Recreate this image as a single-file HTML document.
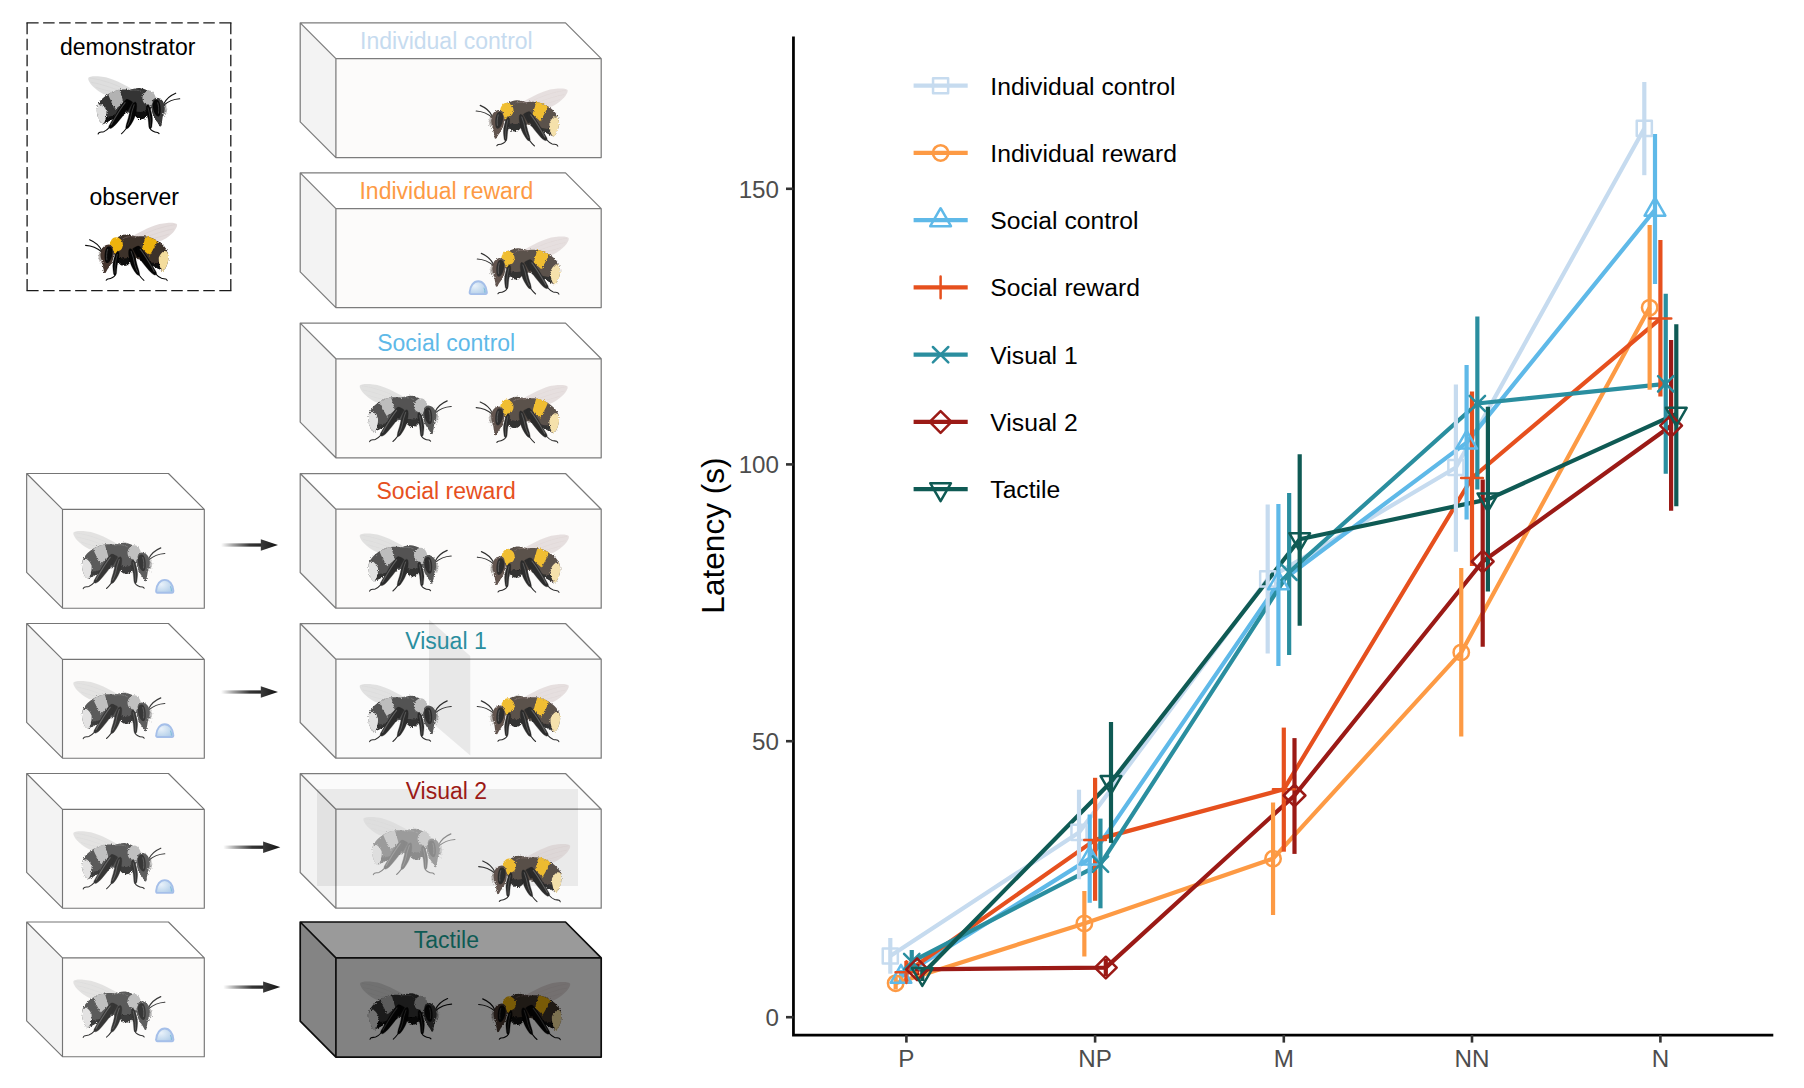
<!DOCTYPE html>
<html lang="en"><head><meta charset="utf-8"><title>Bumblebee social learning: treatments and latency</title>
<style>html,body{margin:0;padding:0;background:#fff;}body{width:1804px;height:1088px;overflow:hidden;font-family:"Liberation Sans", Arial, Helvetica, sans-serif;}</style>
</head><body>
<svg width="1804" height="1088" viewBox="0 0 1804 1088" style="display:block"><defs>

<filter id="fuzz" x="-5%" y="-5%" width="110%" height="110%">
 <feTurbulence type="fractalNoise" baseFrequency="0.85" numOctaves="2" seed="7" result="n"/>
 <feDisplacementMap in="SourceGraphic" in2="n" scale="3" xChannelSelector="R" yChannelSelector="G"/>
</filter>
<symbol id="bee" viewBox="0 0 93 60" overflow="visible">
<g transform="translate(-85,-222)" stroke-linejoin="round" stroke-linecap="round">
 <!-- wing -->
 <path d="M131,237 C139,232.5 146,228.8 151.3,226.7 C157,224.3 162,223.2 167,222.9 C172,222.6 176.6,223 177.1,224.6 C177.4,226.5 175.6,229.6 173.1,232.4 C170.4,235.4 167,237.6 163.8,239.6 C160.5,241.4 158,242 156,242 L140,240 Z" fill="#d2c4c4" fill-opacity="0.6"/>
 <path d="M140,236 C150,231 162,226.5 175,224.6 M146,237 C155,234 166,230 173.5,229 M152,238.5 C158,237.5 165,235.5 169,234" fill="none" stroke="#bfb0b0" stroke-width="0.35" opacity="0.45"/>
 <!-- antennae -->
 <path d="M101.8,250.8 C99.6,246.2 95.5,242.2 89.6,239.8" fill="none" stroke="#0b0b0b" stroke-width="1.15"/>
 <path d="M101.6,251.8 C97.5,248.3 91.5,245.8 85.6,245.4" fill="none" stroke="#0b0b0b" stroke-width="1.15"/>
 <g filter="url(#fuzz)">
 <!-- head -->
 <path d="M101.4,249.8 C102.6,246.6 105.4,244.6 108.6,244.4 C111.4,244.4 113.2,246 113.8,249 C114.2,253 113.8,258 112.2,261.8 C110.8,265 108.8,267.6 107.4,269.6 L105.8,272.6 C105.2,273.4 104.2,273.2 104,272.4 C103.4,270 103.2,267 102.6,263.5 C102,260.5 100.8,259 100.6,256 C100.5,253.5 100.8,251.5 101.4,249.8 Z" fill="#44362f"/>
 <path d="M101,253.4 l-1.8,-0.6 M100.7,255.6 l-2.2,0.1 M100.8,257.8 l-2,0.7 M101.3,259.8 l-1.6,1.1 M101.2,251.4 l-1.3,-0.9 M102,261.8 l-1.2,1.2 M100.8,254.5 l-1.5,-0.2 M100.7,256.7 l-1.7,0.4 M101,258.8 l-1.5,0.9" stroke="#44362f" stroke-width="0.7" fill="none" opacity="0.85"/>
 <!-- body -->
 <path d="M112,246 C112.6,242.5 115,239 118,237 C120.5,235.5 123.5,234.7 126,234.6 C129.5,234.5 133,235.6 136,236.6 C139.5,236 143,236 146,236.5 C150.5,237.2 154,238.6 157,240.5 C160,242.4 162.4,244.4 164.4,246.6 C166,248.4 167.2,250.4 167.8,252.4 C168.5,254.6 168.6,257 168.3,259.4 C168,262 167.2,264.8 166,267.2 C165.2,268.8 164.2,270.2 163,271 C161.2,270.6 159.6,269.6 158,268.5 C155.5,267 152.8,265.6 150,264.5 C147.6,263.4 145.2,262 143,261 C141,260.2 139,259.2 137,259 C134.5,259.6 132.2,261 130,262.4 C128,263.8 126,265 124,265 C122,265 120.2,264.2 119,263 C117.6,261.6 116.6,259.8 116,258 C114.8,256 113.6,254 113,252 C112.4,250 111.8,248 112,246 Z" fill="#3e302b"/>
 <!-- thorax sheen -->
 <path d="M123,238.6 C126,236.6 131,236 135,237" fill="none" stroke="#74655d" stroke-width="0.9" opacity="0.75"/>
 <!-- ventral fur -->
 <path d="M117.4,257.4 C121,258.6 125,258.8 129.4,258 C130.4,259.6 130.6,261.6 129.6,263.2 C128.2,265 126,266 124,265.8 C121.8,265.8 120,264.8 118.8,263.2 C117.8,261.6 117.2,259.4 117.4,257.4 Z" fill="#070707"/>
 <path d="M140,258.6 C144,259.6 147.6,261 150.5,262.2 C154,263.4 157.4,263.6 160,263 L160.4,268 C159.6,268.8 158.6,269 158,268.7 C155.5,267.2 152.8,265.8 150,264.7 C146.6,263.2 143.4,261.6 140,260.4 Z" fill="#070707"/>
 <!-- yellow collar -->
 <path d="M109.6,244.4 C110,242 111.2,239.6 113.2,238 C114.8,237 116.8,237 118.6,237.8 C120.4,238.8 122,240.6 122.6,242.6 C123.2,244.8 122.8,247.2 121.6,249 C120.6,250.4 119,251 117.6,251.2 C116.8,252.2 116,253.2 115,253.6 C114,252.8 113.4,251.2 113,249.8 C112.6,248 112.4,246.4 111.4,245.4 Z" fill="#eeb30f"/>
 <!-- yellow band -->
 <path d="M145.6,236.4 C149.6,236.8 153.6,238.4 157.2,240.8 C156.2,243.4 155,246 153.6,248.6 C152.4,251 151,253.4 149.6,255.6 C148.2,254.4 146.8,253.2 145.4,252 C144.2,250.8 143,249.8 142,248.6 C142.6,246.2 143.4,243.8 144.2,241.4 C144.6,239.8 145,238 145.6,236.4 Z" fill="#eeb30f"/>
 <!-- cream tail -->
 <path d="M163.6,251.2 C164.8,250.8 166.2,251 167.3,251.8 C168.2,254 168.6,256.6 168.4,259.2 C168,262 167.2,264.6 166.2,266.8 C165.4,268.6 164.4,270.2 163.1,271.2 C161.8,270.2 160.8,268.8 160.2,267.2 C159.2,264 158.6,260.6 158.8,257.4 C159.8,255 161.4,252.8 163.6,251.2 Z" fill="#f4dd9d"/>
 </g>
 <!-- eye -->
 <path d="M108.6,246.4 C110.8,246.2 112.4,248.2 112.5,251.4 C112.6,255 111.6,258.6 109.8,261.2 C108.8,262.6 107.4,263.4 106.4,263 C105.2,262.4 104.6,259.8 104.6,256.6 C104.6,253 105.2,249.6 106.6,247.6 C107.2,246.8 107.8,246.4 108.6,246.4 Z" fill="#080808"/>
 <path d="M107.6,249.4 C106.6,252.4 106.3,256.4 106.8,259.8" fill="none" stroke="#444" stroke-width="0.9"/>
 <!-- legs -->
 <g fill="#050505" stroke="#050505" stroke-width="0.3">
  <!-- coxa region between mid and hind legs -->
  <path d="M132.6,248.8 C134.6,247 136.8,246.2 138.6,246.2 L140.6,250 L140,256.4 L137.4,257.6 L134.6,252.4 Z"/>
  <!-- hind leg -->
  <path d="M136.6,246.9 C137.6,246.1 138.8,245.9 139.7,246.5 C142,249 144.5,252.5 146.25,255.5 C148,258 149.5,260.5 150.5,262.5 C152.5,265.5 154,268 155,270 C156,271.6 156.6,272.8 156.6,273.6 C156.4,274.8 155.4,275.2 154.4,275 C153,274.4 152,273.6 151,272.6 C149.4,271 148,269.4 146.9,268 C145,265.8 143.4,263.8 141.9,261.75 C140.6,259.6 139.6,257.4 138.75,255.5 C137.8,253.6 136.6,251.6 136.25,250 C136,248.8 136.1,247.6 136.6,246.9 Z"/>
  <!-- mid leg -->
  <path d="M129.8,248.9 C130.8,248.5 131.8,249.3 132.6,250.6 C133.6,252.4 134.2,254 134.6,255.5 C135.4,257.6 136,259.8 136.4,261.75 C136.9,263.8 137.4,266 138.1,268 C138.8,270 139.4,272.2 139.6,274 C139.7,274.9 139.2,275.5 138.5,275.3 C137.6,275 136.9,274.5 136.25,273.8 C134.8,272 133.6,270 132.5,268 C131.4,266 130.6,263.8 130,261.75 C129.4,259.7 129,257.6 128.75,255.5 C128.5,253.6 128.5,251.6 128.8,250.2 C129,249.5 129.3,249.1 129.8,248.9 Z"/>
  <!-- front leg -->
  <path d="M117.4,251.4 C118.2,251.2 118.8,252 119,253.4 C119.2,255 119.1,256.6 118.9,258 C118.5,260.6 117.7,263.2 117.2,265.5 C116.8,268 116.8,270.6 116.5,273 C116.4,274 116,274.9 115.4,275.3 C114.6,275.6 114,275 113.7,274.2 C113.5,273.8 113.4,273.4 113.4,273 C113.2,270.4 112.7,268 112.8,265.5 C112.9,263 113.4,260.4 114.1,258 C114.8,255.6 116,253 117.4,251.4 Z"/>
 </g>
 <g fill="none" stroke="#050505" stroke-width="1.05">
  <path d="M155.6,273.8 C157.6,276 159.6,277.6 161.6,278.3 C163.2,278.8 164.8,278.6 166,279.1 C166.6,279.4 167,280 167.2,280.6"/>
  <path d="M138.4,274.2 C140.2,276.6 141.8,278.8 143.9,280.4"/>
  <path d="M115.4,274.8 C114,277.4 110.8,278.6 107.8,279 C107.2,279.2 106.6,279.6 106.2,280.2"/>
 </g>
 <!-- leg sheen -->
 <path d="M140.2,249.2 C143.6,253.6 147,259 150,264 C151.6,266.6 153,269 154.2,271.4" fill="none" stroke="#6a6a6a" stroke-width="1.1" opacity="0.6"/>
 <path d="M131.2,251.4 C132.8,255.6 134,260 134.8,264.6 C135.4,267 136.4,269.6 137.6,272" fill="none" stroke="#6a6a6a" stroke-width="0.9" opacity="0.6"/>
 <path d="M117.2,254.4 C116.4,258 115.4,262 115,266.4 C114.9,268.6 115,270.8 115,273" fill="none" stroke="#6a6a6a" stroke-width="0.8" opacity="0.55"/>
</g>
</symbol>

<linearGradient id="arrg" x1="0" y1="0" x2="1" y2="0">
 <stop offset="0" stop-color="#333" stop-opacity="0"/>
 <stop offset="0.3" stop-color="#333" stop-opacity="0.45"/>
 <stop offset="0.7" stop-color="#2c2c2c" stop-opacity="0.95"/>
 <stop offset="1" stop-color="#262626" stop-opacity="1"/>
</linearGradient>
<linearGradient id="headg" x1="0" y1="0" x2="1" y2="0">
 <stop offset="0" stop-color="#3a3a3a"/>
 <stop offset="1" stop-color="#111"/>
</linearGradient>
<radialGradient id="dropg" cx="0.3" cy="0.35" r="0.8">
 <stop offset="0" stop-color="#eaf2fa"/>
 <stop offset="0.55" stop-color="#c9ddf0"/>
 <stop offset="1" stop-color="#aecbe8"/>
</radialGradient>
<filter id="dim" x="-5%" y="-5%" width="110%" height="110%" color-interpolation-filters="sRGB">
 <feColorMatrix type="matrix" values="0.51 0 0 0 0  0 0.51 0 0 0  0 0 0.51 0 0  0 0 0 1 0"/>
</filter>
<filter id="graydim" x="-5%" y="-5%" width="110%" height="110%" color-interpolation-filters="sRGB">
 <feColorMatrix type="matrix" values="0.153 0.301 0.056 0 0  0.153 0.301 0.056 0 0  0.153 0.301 0.056 0 0  0 0 0 1 0"/>
</filter>
<filter id="gray" x="-5%" y="-5%" width="110%" height="110%" color-interpolation-filters="sRGB">
 <feColorMatrix type="matrix" values="0.30 0.59 0.11 0 0  0.30 0.59 0.11 0 0  0.30 0.59 0.11 0 0  0 0 0 1 0"/>
</filter>
<g id="drop">
 <path d="M2.4,13.8 Q0.7,13.8 0.95,11.7 C1.4,5.6 4.9,1 9.55,1 C14.2,1 17.7,5.6 18.15,11.7 Q18.4,13.8 16.7,13.8 Z" fill="url(#dropg)" stroke="#a5bfe9" stroke-width="1.9" stroke-linejoin="round"/>
 <path d="M15.2,7.4 C16,9.2 16.3,10.8 16.2,12.4" fill="none" stroke="#63b4d2" stroke-width="1" opacity="0.7"/>
</g>
<g id="arrow">
 <rect x="0" y="-1.65" width="41" height="3.3" fill="url(#arrg)"/>
 <path d="M39.8,-5.7 L57,0 L39.8,5.7 Z" fill="url(#headg)"/>
</g>
</defs>
<rect width="1804" height="1088" fill="#ffffff"/>
<g font-family='"Liberation Sans", Arial, Helvetica, sans-serif'>
<g fill="none" stroke="#1a1a1a" stroke-width="1.3" stroke-linecap="butt"><path d="M26.450000000000003,22.8 H231.45000000000002 M26.450000000000003,290.6 H231.45000000000002" stroke-dasharray="12.15 4.517 11.5 4.517 11.5 4.517 11.5 4.517 11.5 4.517 11.5 4.517 11.5 4.517 11.5 4.517 11.5 4.517 11.5 4.517 11.5 4.517 11.5 4.517 12.15 0"/><path d="M27.1,22.8 V290.6 M230.8,22.8 V290.6" stroke-dasharray="11.5 4.519"/></g>
<text x="127.7" y="54.8" font-size="23" fill="#000" text-anchor="middle">demonstrator</text>
<text x="134.3" y="204.8" font-size="23" fill="#000" text-anchor="middle">observer</text>
<g transform="translate(180.30,75.40) scale(-1,1)" opacity="1.0"><use href="#bee" x="0" y="0" width="93" height="60" filter="url(#gray)"/></g>
<use href="#bee" x="85.00" y="222.00" width="93" height="60" opacity="1.0"/>
<path d="M300.2,22.9 L335.9,58.6 L335.9,157.6 L300.2,121.9 Z" fill="#f3f3f3"/>
<path d="M300.2,22.9 L565.5,22.9 L601.2,58.6 L335.9,58.6 Z" fill="#ffffff"/>
<rect x="335.9" y="58.6" width="265.3" height="99.0" fill="#fcfbfa" fill-opacity="1.0"/>
<path d="M300.2,22.9 H565.5 L601.2,58.6 V157.6 H335.9 L300.2,121.9 Z M300.2,22.9 L335.9,58.6 H601.2 M335.9,58.6 V157.6" fill="none" stroke="#7c7c7c" stroke-width="1.25" stroke-linejoin="round"/>
<text x="446.4" y="48.8" font-size="23" fill="#c6dbef" text-anchor="middle">Individual control</text>
<use href="#bee" x="475.60" y="87.60" width="93" height="60" opacity="0.84"/>
<path d="M300.2,172.9 L335.9,208.60000000000002 L335.9,307.6 L300.2,271.9 Z" fill="#f3f3f3"/>
<path d="M300.2,172.9 L565.5,172.9 L601.2,208.60000000000002 L335.9,208.60000000000002 Z" fill="#ffffff"/>
<rect x="335.9" y="208.60000000000002" width="265.3" height="99.0" fill="#fcfbfa" fill-opacity="1.0"/>
<path d="M300.2,172.9 H565.5 L601.2,208.60000000000002 V307.6 H335.9 L300.2,271.9 Z M300.2,172.9 L335.9,208.60000000000002 H601.2 M335.9,208.60000000000002 V307.6" fill="none" stroke="#7c7c7c" stroke-width="1.25" stroke-linejoin="round"/>
<text x="446.4" y="198.6" font-size="23" fill="#fd9a44" text-anchor="middle">Individual reward</text>
<use href="#bee" x="476.70" y="235.60" width="93" height="60" opacity="0.84"/>
<use href="#drop" x="468.7" y="280.3"/>
<path d="M300.2,323.1 L335.9,358.8 L335.9,457.8 L300.2,422.1 Z" fill="#f3f3f3"/>
<path d="M300.2,323.1 L565.5,323.1 L601.2,358.8 L335.9,358.8 Z" fill="#ffffff"/>
<rect x="335.9" y="358.8" width="265.3" height="99.0" fill="#fcfbfa" fill-opacity="1.0"/>
<path d="M300.2,323.1 H565.5 L601.2,358.8 V457.8 H335.9 L300.2,422.1 Z M300.2,323.1 L335.9,358.8 H601.2 M335.9,358.8 V457.8" fill="none" stroke="#7c7c7c" stroke-width="1.25" stroke-linejoin="round"/>
<text x="446.2" y="350.9" font-size="23" fill="#5fb9e8" text-anchor="middle">Social control</text>
<g transform="translate(451.80,383.10) scale(-1,1)" opacity="0.84"><use href="#bee" x="0" y="0" width="93" height="60" filter="url(#gray)"/></g>
<use href="#bee" x="475.60" y="384.20" width="93" height="60" opacity="0.84"/>
<path d="M300.2,473.5 L335.9,509.2 L335.9,608.2 L300.2,572.5 Z" fill="#f3f3f3"/>
<path d="M300.2,473.5 L565.5,473.5 L601.2,509.2 L335.9,509.2 Z" fill="#ffffff"/>
<rect x="335.9" y="509.2" width="265.3" height="99.0" fill="#fcfbfa" fill-opacity="1.0"/>
<path d="M300.2,473.5 H565.5 L601.2,509.2 V608.2 H335.9 L300.2,572.5 Z M300.2,473.5 L335.9,509.2 H601.2 M335.9,509.2 V608.2" fill="none" stroke="#7c7c7c" stroke-width="1.25" stroke-linejoin="round"/>
<text x="446.2" y="498.7" font-size="23" fill="#e6501e" text-anchor="middle">Social reward</text>
<g transform="translate(451.80,532.60) scale(-1,1)" opacity="0.84"><use href="#bee" x="0" y="0" width="93" height="60" filter="url(#gray)"/></g>
<use href="#bee" x="476.80" y="533.80" width="93" height="60" opacity="0.84"/>
<path d="M300.2,623.5 L335.9,659.2 L335.9,758.2 L300.2,722.5 Z" fill="#f3f3f3"/>
<path d="M300.2,623.5 L565.5,623.5 L601.2,659.2 L335.9,659.2 Z" fill="#fbfbfb"/>
<rect x="335.9" y="659.2" width="265.3" height="99.0" fill="#fbfbfb" fill-opacity="1.0"/>
<path d="M300.2,623.5 H565.5 L601.2,659.2 V758.2 H335.9 L300.2,722.5 Z M300.2,623.5 L335.9,659.2 H601.2 M335.9,659.2 V758.2" fill="none" stroke="#7c7c7c" stroke-width="1.25" stroke-linejoin="round"/>
<g transform="translate(451.80,683.10) scale(-1,1)" opacity="0.84"><use href="#bee" x="0" y="0" width="93" height="60" filter="url(#gray)"/></g>
<use href="#bee" x="476.70" y="683.10" width="93" height="60" opacity="0.84"/>
<path d="M429,619.6 L470.3,655.9 L470.3,755.6 L429,720.3 Z" fill="#000" fill-opacity="0.075"/>
<text x="446.0" y="649.0" font-size="23" fill="#2a8e9f" text-anchor="middle">Visual 1</text>
<path d="M300.2,773.5 L335.9,809.2 L335.9,908.2 L300.2,872.5 Z" fill="#f3f3f3"/>
<path d="M300.2,773.5 L565.5,773.5 L601.2,809.2 L335.9,809.2 Z" fill="#fbfbfb"/>
<rect x="335.9" y="809.2" width="265.3" height="99.0" fill="#fbfbfb" fill-opacity="1.0"/>
<path d="M300.2,773.5 H565.5 L601.2,809.2 V908.2 H335.9 L300.2,872.5 Z M300.2,773.5 L335.9,809.2 H601.2 M335.9,809.2 V908.2" fill="none" stroke="#7c7c7c" stroke-width="1.25" stroke-linejoin="round"/>
<g transform="translate(455.50,816.10) scale(-1,1)" opacity="0.42"><use href="#bee" x="0" y="0" width="93" height="60" filter="url(#gray)"/></g>
<rect x="317" y="789" width="261" height="97" fill="#000" fill-opacity="0.065"/>
<use href="#bee" x="478.10" y="843.20" width="93" height="60" opacity="0.84"/>
<text x="446.4" y="799.0" font-size="23" fill="#9b1a16" text-anchor="middle">Visual 2</text>
<path d="M300.2,922.0 L335.9,957.9 L335.9,1057.1 L300.2,1021.2 Z" fill="#848484"/>
<path d="M300.2,922.0 L565.5,922.0 L601.2,957.9 L335.9,957.9 Z" fill="#9a9a9a"/>
<rect x="335.9" y="957.9" width="265.3" height="99.2" fill="#828282" fill-opacity="1.0"/>
<path d="M300.2,922.0 H565.5 L601.2,957.9 V1057.1 H335.9 L300.2,1021.2 Z M300.2,922.0 L335.9,957.9 H601.2 M335.9,957.9 V1057.1" fill="none" stroke="#0d0d0d" stroke-width="1.7" stroke-linejoin="round"/>
<g transform="translate(452.20,980.70) scale(-1,1)" opacity="1.0"><use href="#bee" x="0" y="0" width="93" height="60" filter="url(#graydim)"/></g>
<use href="#bee" x="478.10" y="981.10" width="93" height="60" opacity="1.0" filter="url(#dim)"/>
<text x="446.4" y="947.5" font-size="23" fill="#0f5a54" text-anchor="middle">Tactile</text>
<path d="M26.65,473.5 L62.5,509.3 L62.5,608.2 L26.65,572.4 Z" fill="#f3f3f3"/>
<path d="M26.65,473.5 L168.45000000000002,473.5 L204.3,509.3 L62.5,509.3 Z" fill="#ffffff"/>
<rect x="62.5" y="509.3" width="141.8" height="98.9" fill="#fcfbfa" fill-opacity="1.0"/>
<path d="M26.65,473.5 H168.45000000000002 L204.3,509.3 V608.2 H62.5 L26.65,572.4 Z M26.65,473.5 L62.5,509.3 H204.3 M62.5,509.3 V608.2" fill="none" stroke="#757575" stroke-width="1.15" stroke-linejoin="round"/>
<g transform="translate(165.40,530.10) scale(-1,1)" opacity="0.8"><use href="#bee" x="0" y="0" width="93" height="60" filter="url(#gray)"/></g>
<use href="#drop" x="155.2" y="578.90"/>
<use href="#arrow" x="221" y="545"/>
<path d="M26.65,623.5 L62.5,659.3 L62.5,758.1999999999999 L26.65,722.4 Z" fill="#f3f3f3"/>
<path d="M26.65,623.5 L168.45000000000002,623.5 L204.3,659.3 L62.5,659.3 Z" fill="#ffffff"/>
<rect x="62.5" y="659.3" width="141.8" height="98.9" fill="#fcfbfa" fill-opacity="1.0"/>
<path d="M26.65,623.5 H168.45000000000002 L204.3,659.3 V758.1999999999999 H62.5 L26.65,722.4 Z M26.65,623.5 L62.5,659.3 H204.3 M62.5,659.3 V758.1999999999999" fill="none" stroke="#757575" stroke-width="1.15" stroke-linejoin="round"/>
<g transform="translate(165.40,680.10) scale(-1,1)" opacity="0.8"><use href="#bee" x="0" y="0" width="93" height="60" filter="url(#gray)"/></g>
<use href="#drop" x="155.2" y="723.20"/>
<use href="#arrow" x="221" y="692"/>
<path d="M26.65,773.5 L62.5,809.3 L62.5,908.1999999999999 L26.65,872.4 Z" fill="#f3f3f3"/>
<path d="M26.65,773.5 L168.45000000000002,773.5 L204.3,809.3 L62.5,809.3 Z" fill="#ffffff"/>
<rect x="62.5" y="809.3" width="141.8" height="98.9" fill="#fcfbfa" fill-opacity="1.0"/>
<path d="M26.65,773.5 H168.45000000000002 L204.3,809.3 V908.1999999999999 H62.5 L26.65,872.4 Z M26.65,773.5 L62.5,809.3 H204.3 M62.5,809.3 V908.1999999999999" fill="none" stroke="#757575" stroke-width="1.15" stroke-linejoin="round"/>
<g transform="translate(165.40,830.40) scale(-1,1)" opacity="0.8"><use href="#bee" x="0" y="0" width="93" height="60" filter="url(#gray)"/></g>
<use href="#drop" x="155.2" y="879.10"/>
<use href="#arrow" x="223.3" y="847.2"/>
<path d="M26.65,922.0 L62.5,957.8 L62.5,1056.7 L26.65,1020.9 Z" fill="#f3f3f3"/>
<path d="M26.65,922.0 L168.45000000000002,922.0 L204.3,957.8 L62.5,957.8 Z" fill="#ffffff"/>
<rect x="62.5" y="957.8" width="141.8" height="98.9" fill="#fcfbfa" fill-opacity="1.0"/>
<path d="M26.65,922.0 H168.45000000000002 L204.3,957.8 V1056.7 H62.5 L26.65,1020.9 Z M26.65,922.0 L62.5,957.8 H204.3 M62.5,957.8 V1056.7" fill="none" stroke="#757575" stroke-width="1.15" stroke-linejoin="round"/>
<g transform="translate(165.40,978.80) scale(-1,1)" opacity="0.8"><use href="#bee" x="0" y="0" width="93" height="60" filter="url(#gray)"/></g>
<use href="#drop" x="155.2" y="1027.50"/>
<use href="#arrow" x="223.3" y="987.1"/>
<path d="M793.45,36.5 L793.45,1035.0 L1773.3,1035.0" fill="none" stroke="#000" stroke-width="2.75" stroke-linecap="butt" stroke-linejoin="miter"/>
<path d="M786,1017.2 L793.45,1017.2" stroke="#333" stroke-width="2.6"/>
<text x="779" y="1026.0" font-size="24.2" fill="#4d4d4d" text-anchor="end">0</text>
<path d="M786,741.2 L793.45,741.2" stroke="#333" stroke-width="2.6"/>
<text x="779" y="750.0" font-size="24.2" fill="#4d4d4d" text-anchor="end">50</text>
<path d="M786,464.4 L793.45,464.4" stroke="#333" stroke-width="2.6"/>
<text x="779" y="473.2" font-size="24.2" fill="#4d4d4d" text-anchor="end">100</text>
<path d="M786,188.8 L793.45,188.8" stroke="#333" stroke-width="2.6"/>
<text x="779" y="197.60000000000002" font-size="24.2" fill="#4d4d4d" text-anchor="end">150</text>
<path d="M906.4,1035.0 L906.4,1042.6" stroke="#333" stroke-width="2.6"/>
<text x="906.4" y="1067.2" font-size="24.2" fill="#4d4d4d" text-anchor="middle">P</text>
<path d="M1095.1,1035.0 L1095.1,1042.6" stroke="#333" stroke-width="2.6"/>
<text x="1095.1" y="1067.2" font-size="24.2" fill="#4d4d4d" text-anchor="middle">NP</text>
<path d="M1283.8,1035.0 L1283.8,1042.6" stroke="#333" stroke-width="2.6"/>
<text x="1283.8" y="1067.2" font-size="24.2" fill="#4d4d4d" text-anchor="middle">M</text>
<path d="M1472.0,1035.0 L1472.0,1042.6" stroke="#333" stroke-width="2.6"/>
<text x="1472.0" y="1067.2" font-size="24.2" fill="#4d4d4d" text-anchor="middle">NN</text>
<path d="M1660.4,1035.0 L1660.4,1042.6" stroke="#333" stroke-width="2.6"/>
<text x="1660.4" y="1067.2" font-size="24.2" fill="#4d4d4d" text-anchor="middle">N</text>
<text transform="translate(724,535.5) rotate(-90)" font-size="31.6" fill="#000" text-anchor="middle">Latency (s)</text>
<polyline points="890.30,956 1079.00,832.4 1267.70,578.9 1455.90,467.5 1644.30,128.4" fill="none" stroke="#c6dbef" stroke-width="4.2" stroke-linejoin="round"/>
<polyline points="895.65,983.2 1084.35,923.4 1273.05,858.7 1461.25,652.4 1649.65,307.6" fill="none" stroke="#fd9a44" stroke-width="4.2" stroke-linejoin="round"/>
<polyline points="901.00,976.8 1089.70,858.6 1278.40,583.3 1466.60,442.6 1655.00,209.7" fill="none" stroke="#5fb9e8" stroke-width="4.2" stroke-linejoin="round"/>
<polyline points="906.40,972.2 1095.10,839.9 1283.80,789.3 1472.00,478 1660.40,318.6" fill="none" stroke="#e6501e" stroke-width="4.2" stroke-linejoin="round"/>
<polyline points="911.75,961.6 1100.45,864.1 1289.15,572.3 1477.35,403.5 1665.75,383.8" fill="none" stroke="#2a8e9f" stroke-width="4.2" stroke-linejoin="round"/>
<polyline points="917.10,969.3 1105.80,967.6 1294.50,795.5 1482.70,561.5 1671.10,425.7" fill="none" stroke="#9b1a16" stroke-width="4.2" stroke-linejoin="round"/>
<polyline points="922.30,974 1111.00,782 1299.70,539.2 1487.90,499.4 1676.30,413.8" fill="none" stroke="#0f5a54" stroke-width="4.2" stroke-linejoin="round"/>
<path d="M890.30,938 L890.30,973.7" stroke="#c6dbef" stroke-width="4.2" fill="none"/>
<path d="M1079.00,789.7 L1079.00,879.3" stroke="#c6dbef" stroke-width="4.2" fill="none"/>
<path d="M1267.70,504.4 L1267.70,653.4" stroke="#c6dbef" stroke-width="4.2" fill="none"/>
<path d="M1455.90,384.4 L1455.90,551.8" stroke="#c6dbef" stroke-width="4.2" fill="none"/>
<path d="M1644.30,82 L1644.30,175.2" stroke="#c6dbef" stroke-width="4.2" fill="none"/>
<path d="M895.65,977 L895.65,989.5" stroke="#fd9a44" stroke-width="4.2" fill="none"/>
<path d="M1084.35,891 L1084.35,956.5" stroke="#fd9a44" stroke-width="4.2" fill="none"/>
<path d="M1273.05,802.5 L1273.05,915" stroke="#fd9a44" stroke-width="4.2" fill="none"/>
<path d="M1461.25,568 L1461.25,736.5" stroke="#fd9a44" stroke-width="4.2" fill="none"/>
<path d="M1649.65,225 L1649.65,389.7" stroke="#fd9a44" stroke-width="4.2" fill="none"/>
<path d="M901.00,970 L901.00,984" stroke="#5fb9e8" stroke-width="4.2" fill="none"/>
<path d="M1089.70,814.5 L1089.70,902.8" stroke="#5fb9e8" stroke-width="4.2" fill="none"/>
<path d="M1278.40,504 L1278.40,666" stroke="#5fb9e8" stroke-width="4.2" fill="none"/>
<path d="M1466.60,365 L1466.60,519.4" stroke="#5fb9e8" stroke-width="4.2" fill="none"/>
<path d="M1655.00,134 L1655.00,284" stroke="#5fb9e8" stroke-width="4.2" fill="none"/>
<path d="M906.40,961 L906.40,984" stroke="#e6501e" stroke-width="4.2" fill="none"/>
<path d="M1095.10,777.8 L1095.10,900.8" stroke="#e6501e" stroke-width="4.2" fill="none"/>
<path d="M1283.80,727.6 L1283.80,851.7" stroke="#e6501e" stroke-width="4.2" fill="none"/>
<path d="M1472.00,391.4 L1472.00,565.9" stroke="#e6501e" stroke-width="4.2" fill="none"/>
<path d="M1660.40,240 L1660.40,396.6" stroke="#e6501e" stroke-width="4.2" fill="none"/>
<path d="M911.75,950 L911.75,971" stroke="#2a8e9f" stroke-width="4.2" fill="none"/>
<path d="M1100.45,818.6 L1100.45,908.3" stroke="#2a8e9f" stroke-width="4.2" fill="none"/>
<path d="M1289.15,493 L1289.15,655" stroke="#2a8e9f" stroke-width="4.2" fill="none"/>
<path d="M1477.35,316.5 L1477.35,489.5" stroke="#2a8e9f" stroke-width="4.2" fill="none"/>
<path d="M1665.75,293.7 L1665.75,473.8" stroke="#2a8e9f" stroke-width="4.2" fill="none"/>
<path d="M917.10,964 L917.10,975" stroke="#9b1a16" stroke-width="4.2" fill="none"/>
<path d="M1105.80,959 L1105.80,976" stroke="#9b1a16" stroke-width="4.2" fill="none"/>
<path d="M1294.50,738.1 L1294.50,853.9" stroke="#9b1a16" stroke-width="4.2" fill="none"/>
<path d="M1482.70,479.6 L1482.70,646.8" stroke="#9b1a16" stroke-width="4.2" fill="none"/>
<path d="M1671.10,340 L1671.10,510.7" stroke="#9b1a16" stroke-width="4.2" fill="none"/>
<path d="M922.30,968 L922.30,981" stroke="#0f5a54" stroke-width="4.2" fill="none"/>
<path d="M1111.00,722 L1111.00,842.9" stroke="#0f5a54" stroke-width="4.2" fill="none"/>
<path d="M1299.70,454.3 L1299.70,625.8" stroke="#0f5a54" stroke-width="4.2" fill="none"/>
<path d="M1487.90,406.8 L1487.90,591.5" stroke="#0f5a54" stroke-width="4.2" fill="none"/>
<path d="M1676.30,324.2 L1676.30,506.3" stroke="#0f5a54" stroke-width="4.2" fill="none"/>
<rect x="882.75" y="948.45" width="15.09" height="15.09" fill="none" stroke="#c6dbef" stroke-width="2.5" stroke-linejoin="round" stroke-linecap="round"/>
<rect x="1071.45" y="824.85" width="15.09" height="15.09" fill="none" stroke="#c6dbef" stroke-width="2.5" stroke-linejoin="round" stroke-linecap="round"/>
<rect x="1260.15" y="571.35" width="15.09" height="15.09" fill="none" stroke="#c6dbef" stroke-width="2.5" stroke-linejoin="round" stroke-linecap="round"/>
<rect x="1448.35" y="459.95" width="15.09" height="15.09" fill="none" stroke="#c6dbef" stroke-width="2.5" stroke-linejoin="round" stroke-linecap="round"/>
<rect x="1636.75" y="120.85" width="15.09" height="15.09" fill="none" stroke="#c6dbef" stroke-width="2.5" stroke-linejoin="round" stroke-linecap="round"/>
<circle cx="895.65" cy="983.20" r="7.70" fill="none" stroke="#fd9a44" stroke-width="2.5" stroke-linejoin="round" stroke-linecap="round"/>
<circle cx="1084.35" cy="923.40" r="7.70" fill="none" stroke="#fd9a44" stroke-width="2.5" stroke-linejoin="round" stroke-linecap="round"/>
<circle cx="1273.05" cy="858.70" r="7.70" fill="none" stroke="#fd9a44" stroke-width="2.5" stroke-linejoin="round" stroke-linecap="round"/>
<circle cx="1461.25" cy="652.40" r="7.70" fill="none" stroke="#fd9a44" stroke-width="2.5" stroke-linejoin="round" stroke-linecap="round"/>
<circle cx="1649.65" cy="307.60" r="7.70" fill="none" stroke="#fd9a44" stroke-width="2.5" stroke-linejoin="round" stroke-linecap="round"/>
<path d="M901.00,964.83 L911.37,982.79 L890.63,982.79 Z" fill="none" stroke="#5fb9e8" stroke-width="2.5" stroke-linejoin="round" stroke-linecap="round"/>
<path d="M1089.70,846.63 L1100.07,864.59 L1079.33,864.59 Z" fill="none" stroke="#5fb9e8" stroke-width="2.5" stroke-linejoin="round" stroke-linecap="round"/>
<path d="M1278.40,571.33 L1288.77,589.29 L1268.03,589.29 Z" fill="none" stroke="#5fb9e8" stroke-width="2.5" stroke-linejoin="round" stroke-linecap="round"/>
<path d="M1466.60,430.63 L1476.97,448.59 L1456.23,448.59 Z" fill="none" stroke="#5fb9e8" stroke-width="2.5" stroke-linejoin="round" stroke-linecap="round"/>
<path d="M1655.00,197.73 L1665.37,215.69 L1644.63,215.69 Z" fill="none" stroke="#5fb9e8" stroke-width="2.5" stroke-linejoin="round" stroke-linecap="round"/>
<path d="M895.51,972.20 L917.29,972.20 M906.40,961.31 L906.40,983.09" fill="none" stroke="#e6501e" stroke-width="2.5" stroke-linejoin="round" stroke-linecap="round"/>
<path d="M1084.21,839.90 L1105.99,839.90 M1095.10,829.01 L1095.10,850.79" fill="none" stroke="#e6501e" stroke-width="2.5" stroke-linejoin="round" stroke-linecap="round"/>
<path d="M1272.91,789.30 L1294.69,789.30 M1283.80,778.41 L1283.80,800.19" fill="none" stroke="#e6501e" stroke-width="2.5" stroke-linejoin="round" stroke-linecap="round"/>
<path d="M1461.11,478.00 L1482.89,478.00 M1472.00,467.11 L1472.00,488.89" fill="none" stroke="#e6501e" stroke-width="2.5" stroke-linejoin="round" stroke-linecap="round"/>
<path d="M1649.51,318.60 L1671.29,318.60 M1660.40,307.71 L1660.40,329.49" fill="none" stroke="#e6501e" stroke-width="2.5" stroke-linejoin="round" stroke-linecap="round"/>
<path d="M904.05,953.90 L919.45,969.30 M904.05,969.30 L919.45,953.90" fill="none" stroke="#2a8e9f" stroke-width="2.5" stroke-linejoin="round" stroke-linecap="round"/>
<path d="M1092.75,856.40 L1108.15,871.80 M1092.75,871.80 L1108.15,856.40" fill="none" stroke="#2a8e9f" stroke-width="2.5" stroke-linejoin="round" stroke-linecap="round"/>
<path d="M1281.45,564.60 L1296.85,580.00 M1281.45,580.00 L1296.85,564.60" fill="none" stroke="#2a8e9f" stroke-width="2.5" stroke-linejoin="round" stroke-linecap="round"/>
<path d="M1469.65,395.80 L1485.05,411.20 M1469.65,411.20 L1485.05,395.80" fill="none" stroke="#2a8e9f" stroke-width="2.5" stroke-linejoin="round" stroke-linecap="round"/>
<path d="M1658.05,376.10 L1673.45,391.50 M1658.05,391.50 L1673.45,376.10" fill="none" stroke="#2a8e9f" stroke-width="2.5" stroke-linejoin="round" stroke-linecap="round"/>
<path d="M917.10,958.41 L927.99,969.30 L917.10,980.19 L906.21,969.30 Z" fill="none" stroke="#9b1a16" stroke-width="2.5" stroke-linejoin="round" stroke-linecap="round"/>
<path d="M1105.80,956.71 L1116.69,967.60 L1105.80,978.49 L1094.91,967.60 Z" fill="none" stroke="#9b1a16" stroke-width="2.5" stroke-linejoin="round" stroke-linecap="round"/>
<path d="M1294.50,784.61 L1305.39,795.50 L1294.50,806.39 L1283.61,795.50 Z" fill="none" stroke="#9b1a16" stroke-width="2.5" stroke-linejoin="round" stroke-linecap="round"/>
<path d="M1482.70,550.61 L1493.59,561.50 L1482.70,572.39 L1471.81,561.50 Z" fill="none" stroke="#9b1a16" stroke-width="2.5" stroke-linejoin="round" stroke-linecap="round"/>
<path d="M1671.10,414.81 L1681.99,425.70 L1671.10,436.59 L1660.21,425.70 Z" fill="none" stroke="#9b1a16" stroke-width="2.5" stroke-linejoin="round" stroke-linecap="round"/>
<path d="M922.30,985.97 L932.67,968.01 L911.93,968.01 Z" fill="none" stroke="#0f5a54" stroke-width="2.5" stroke-linejoin="round" stroke-linecap="round"/>
<path d="M1111.00,793.97 L1121.37,776.01 L1100.63,776.01 Z" fill="none" stroke="#0f5a54" stroke-width="2.5" stroke-linejoin="round" stroke-linecap="round"/>
<path d="M1299.70,551.17 L1310.07,533.21 L1289.33,533.21 Z" fill="none" stroke="#0f5a54" stroke-width="2.5" stroke-linejoin="round" stroke-linecap="round"/>
<path d="M1487.90,511.37 L1498.27,493.41 L1477.53,493.41 Z" fill="none" stroke="#0f5a54" stroke-width="2.5" stroke-linejoin="round" stroke-linecap="round"/>
<path d="M1676.30,425.77 L1686.67,407.81 L1665.93,407.81 Z" fill="none" stroke="#0f5a54" stroke-width="2.5" stroke-linejoin="round" stroke-linecap="round"/>
<path d="M913.6,85.70 L967.7,85.70" stroke="#c6dbef" stroke-width="4.2"/>
<rect x="933.05" y="78.15" width="15.09" height="15.09" fill="none" stroke="#c6dbef" stroke-width="2.5" stroke-linejoin="round" stroke-linecap="round"/>
<text x="990.3" y="94.70" font-size="24.7" fill="#000">Individual control</text>
<path d="M913.6,152.95 L967.7,152.95" stroke="#fd9a44" stroke-width="4.2"/>
<circle cx="940.60" cy="152.95" r="7.70" fill="none" stroke="#fd9a44" stroke-width="2.5" stroke-linejoin="round" stroke-linecap="round"/>
<text x="990.3" y="161.95" font-size="24.7" fill="#000">Individual reward</text>
<path d="M913.6,220.20 L967.7,220.20" stroke="#5fb9e8" stroke-width="4.2"/>
<path d="M940.60,208.23 L950.97,226.19 L930.23,226.19 Z" fill="none" stroke="#5fb9e8" stroke-width="2.5" stroke-linejoin="round" stroke-linecap="round"/>
<text x="990.3" y="229.20" font-size="24.7" fill="#000">Social control</text>
<path d="M913.6,287.45 L967.7,287.45" stroke="#e6501e" stroke-width="4.2"/>
<path d="M929.71,287.45 L951.49,287.45 M940.60,276.56 L940.60,298.34" fill="none" stroke="#e6501e" stroke-width="2.5" stroke-linejoin="round" stroke-linecap="round"/>
<text x="990.3" y="296.45" font-size="24.7" fill="#000">Social reward</text>
<path d="M913.6,354.70 L967.7,354.70" stroke="#2a8e9f" stroke-width="4.2"/>
<path d="M932.90,347.00 L948.30,362.40 M932.90,362.40 L948.30,347.00" fill="none" stroke="#2a8e9f" stroke-width="2.5" stroke-linejoin="round" stroke-linecap="round"/>
<text x="990.3" y="363.70" font-size="24.7" fill="#000">Visual 1</text>
<path d="M913.6,421.95 L967.7,421.95" stroke="#9b1a16" stroke-width="4.2"/>
<path d="M940.60,411.06 L951.49,421.95 L940.60,432.84 L929.71,421.95 Z" fill="none" stroke="#9b1a16" stroke-width="2.5" stroke-linejoin="round" stroke-linecap="round"/>
<text x="990.3" y="430.95" font-size="24.7" fill="#000">Visual 2</text>
<path d="M913.6,489.20 L967.7,489.20" stroke="#0f5a54" stroke-width="4.2"/>
<path d="M940.60,501.17 L950.97,483.21 L930.23,483.21 Z" fill="none" stroke="#0f5a54" stroke-width="2.5" stroke-linejoin="round" stroke-linecap="round"/>
<text x="990.3" y="498.20" font-size="24.7" fill="#000">Tactile</text>
</g></svg>
</body></html>
